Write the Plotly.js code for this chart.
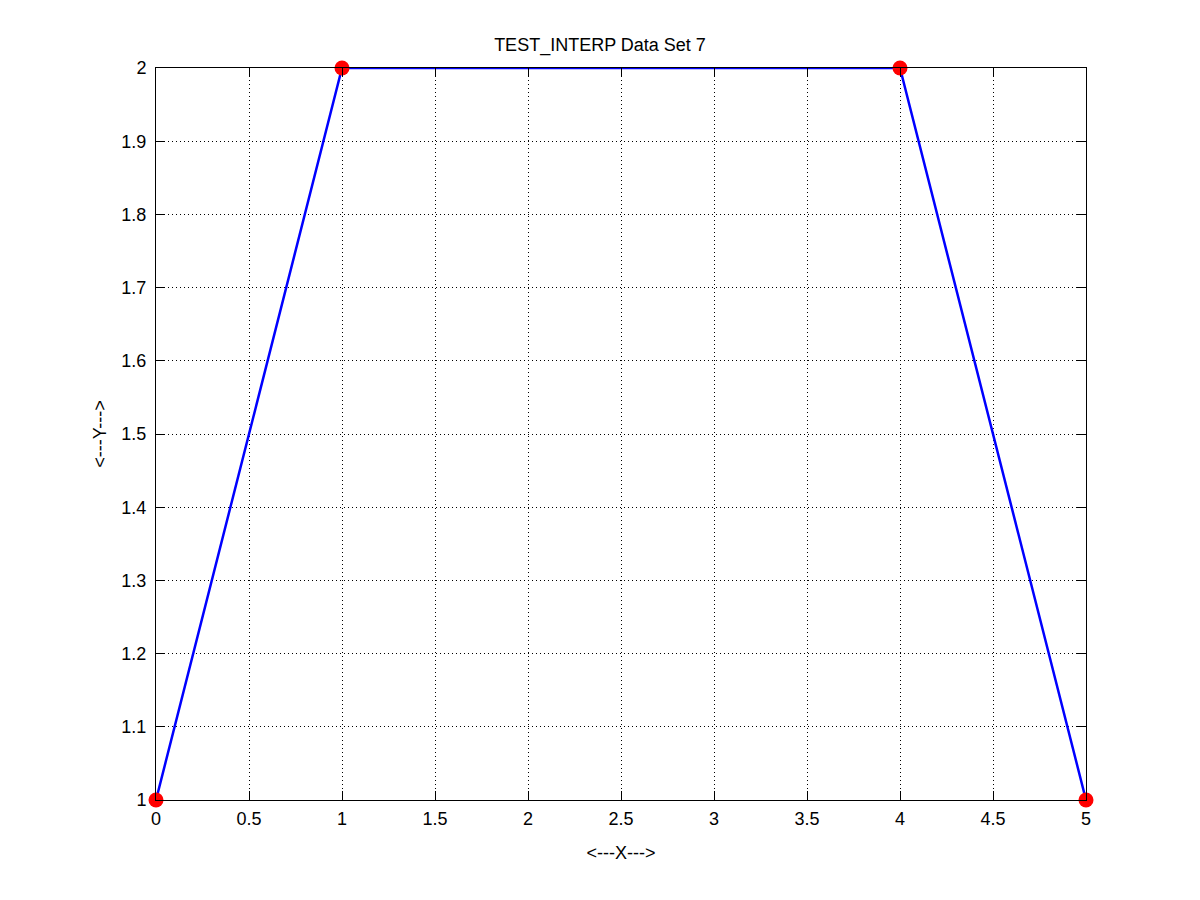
<!DOCTYPE html>
<html>
<head>
<meta charset="utf-8">
<script src="https://cdn.plot.ly/plotly-3.0.1.min.js"></script>
<style>html,body{margin:0;padding:0;background:#fff;}#chart{width:1200px;height:900px;}</style>
</head>
<body>
<div id="chart"></div>
<script>
const xData = [0, 1, 4, 5];
const yData = [1, 2, 2, 1];
const xTicks = [0, 0.5, 1, 1.5, 2, 2.5, 3, 3.5, 4, 4.5, 5];
const xTickLabels = ["0", "0.5", "1", "1.5", "2", "2.5", "3", "3.5", "4", "4.5", "5"];
const yTicks = [1, 1.1, 1.2, 1.3, 1.4, 1.5, 1.6, 1.7, 1.8, 1.9, 2];
const yTickLabels = ["1", "1.1", "1.2", "1.3", "1.4", "1.5", "1.6", "1.7", "1.8", "1.9", "2"];

const font = {family: "Liberation Sans, Arial, sans-serif", size: 18, color: "#000"};

const traces = [
  {x: xData, y: yData, mode: "lines", line: {color: "#0000ff", width: 2.5}, cliponaxis: false, hoverinfo: "skip"},
  {x: xData, y: yData, mode: "markers", marker: {color: "#ff0000", size: 15}, cliponaxis: false, hoverinfo: "skip"}
];

const axisCommon = {
  showline: true, linecolor: "#000", linewidth: 1, mirror: "ticks",
  ticks: "inside", ticklen: 9, tickcolor: "#000", tickwidth: 1,
  showgrid: true, gridcolor: "#000", gridwidth: 1, griddash: "1px,3px",
  zeroline: false, tickfont: font, tickmode: "array"
};

const layout = {
  width: 1200, height: 900,
  paper_bgcolor: "#fff", plot_bgcolor: "#fff",
  showlegend: false,
  margin: {l: 156, r: 114, t: 68, b: 100},
  title: {text: "TEST_INTERP Data Set 7", font: font, x: 0.5, xanchor: "center", y: 0.95, yanchor: "middle"},
  xaxis: Object.assign({}, axisCommon, {
    range: [0, 5], tickvals: xTicks, ticktext: xTickLabels, ticklabelstandoff: 2,
    title: {text: "&lt;---X---&gt;", font: font, standoff: 18}
  }),
  yaxis: Object.assign({}, axisCommon, {
    range: [1, 2], tickvals: yTicks, ticktext: yTickLabels, ticklabelstandoff: 5,
    title: {text: "&lt;---Y---&gt;", font: font, standoff: 10}
  })
};

Plotly.newPlot("chart", traces, layout, {displayModeBar: false, staticPlot: true});
</script>
</body>
</html>
